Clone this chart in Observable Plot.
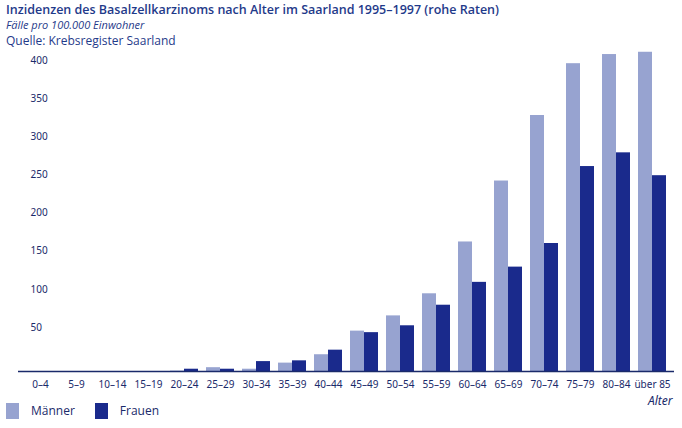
<!DOCTYPE html>
<html><head><meta charset="utf-8">
<script src="https://cdn.jsdelivr.net/npm/d3@7"></script>
<script src="https://cdn.jsdelivr.net/npm/@observablehq/plot@0.6"></script>
<style>
body{margin:0;font-family:"Open Sans",sans-serif;color:#1f3a8a;background:#fff}
#t{position:absolute;left:6px;top:1px;font-size:12.5px;font-weight:600}
#s{position:absolute;left:6px;top:17px;font-size:11px;font-style:italic}
#q{position:absolute;left:6px;top:32px;font-size:12px}
#c{position:absolute;left:0;top:48px}
#l{position:absolute;left:6px;top:402px;font-size:12px;color:#1a2a6a}
#l span{display:inline-block;width:13px;height:16px;vertical-align:-4px;margin-right:12px}
</style></head><body>
<div id="t">Inzidenzen des Basalzellkarzinoms nach Alter im Saarland 1995–1997 (rohe Raten)</div>
<div id="s">Fälle pro 100.000 Einwohner</div>
<div id="q">Quelle: Krebsregister Saarland</div>
<div id="c"></div>
<div id="l"><span style="background:#97a3d0"></span>Männer<span style="background:#1a2a8c;margin-left:20px"></span>Frauen</div>
<script>
const ages=["0–4","5–9","10–14","15–19","20–24","25–29","30–34","35–39","40–44","45–49","50–54","55–59","60–64","65–69","70–74","75–79","80–84","über 85"];
const maenner=[0,0,0,0,0.5,5,3,11,22,53,73,102,170,250,336,404,416,419];
const frauen=[0,0,0,0,3,3,13,14,28,51,60,87,117,137,168,269,287,257];
const yTicks=[50,100,150,200,250,300,350,400];
const m=ages.map((a,i)=>({a,v:maenner[i]})), f=ages.map((a,i)=>({a,v:frauen[i]}));
const p=Plot.plot({width:682,height:360,marginLeft:18,marginRight:8,marginTop:3,marginBottom:37,
 x:{domain:ages,padding:0,label:null,tickSize:0,axis:null},
 y:{domain:[0,420],axis:null},
 marks:[
  Plot.ruleY(yTicks,{stroke:"#2a3f9a",strokeWidth:1,x1:()=>-0,dx:0}),
  Plot.text(yTicks,{y:d=>d,text:d=>String(d),frameAnchor:"left",dx:12,dy:-6,textAnchor:"start",fill:"#1a2a6a",fontSize:10}),
  Plot.barY(m,{x:"a",y:"v",fill:"#97a3d0",insetLeft:4,insetRight:18}),
  Plot.barY(f,{x:"a",y:"v",fill:"#1a2a8c",insetLeft:18,insetRight:4}),
  Plot.ruleY([0],{stroke:"#1a2a6a",strokeWidth:1.5}),
  Plot.axisX({tickSize:0,tickPadding:9,fontSize:10,fill:"#1a2a6a",label:null}),
  Plot.text(["Alter"],{frameAnchor:"bottom-right",dy:33,dx:-2,textAnchor:"end",fontStyle:"italic",fontSize:12,fill:"#1a2a6a"})
 ]});
document.getElementById("c").append(p);
</script></body></html>
